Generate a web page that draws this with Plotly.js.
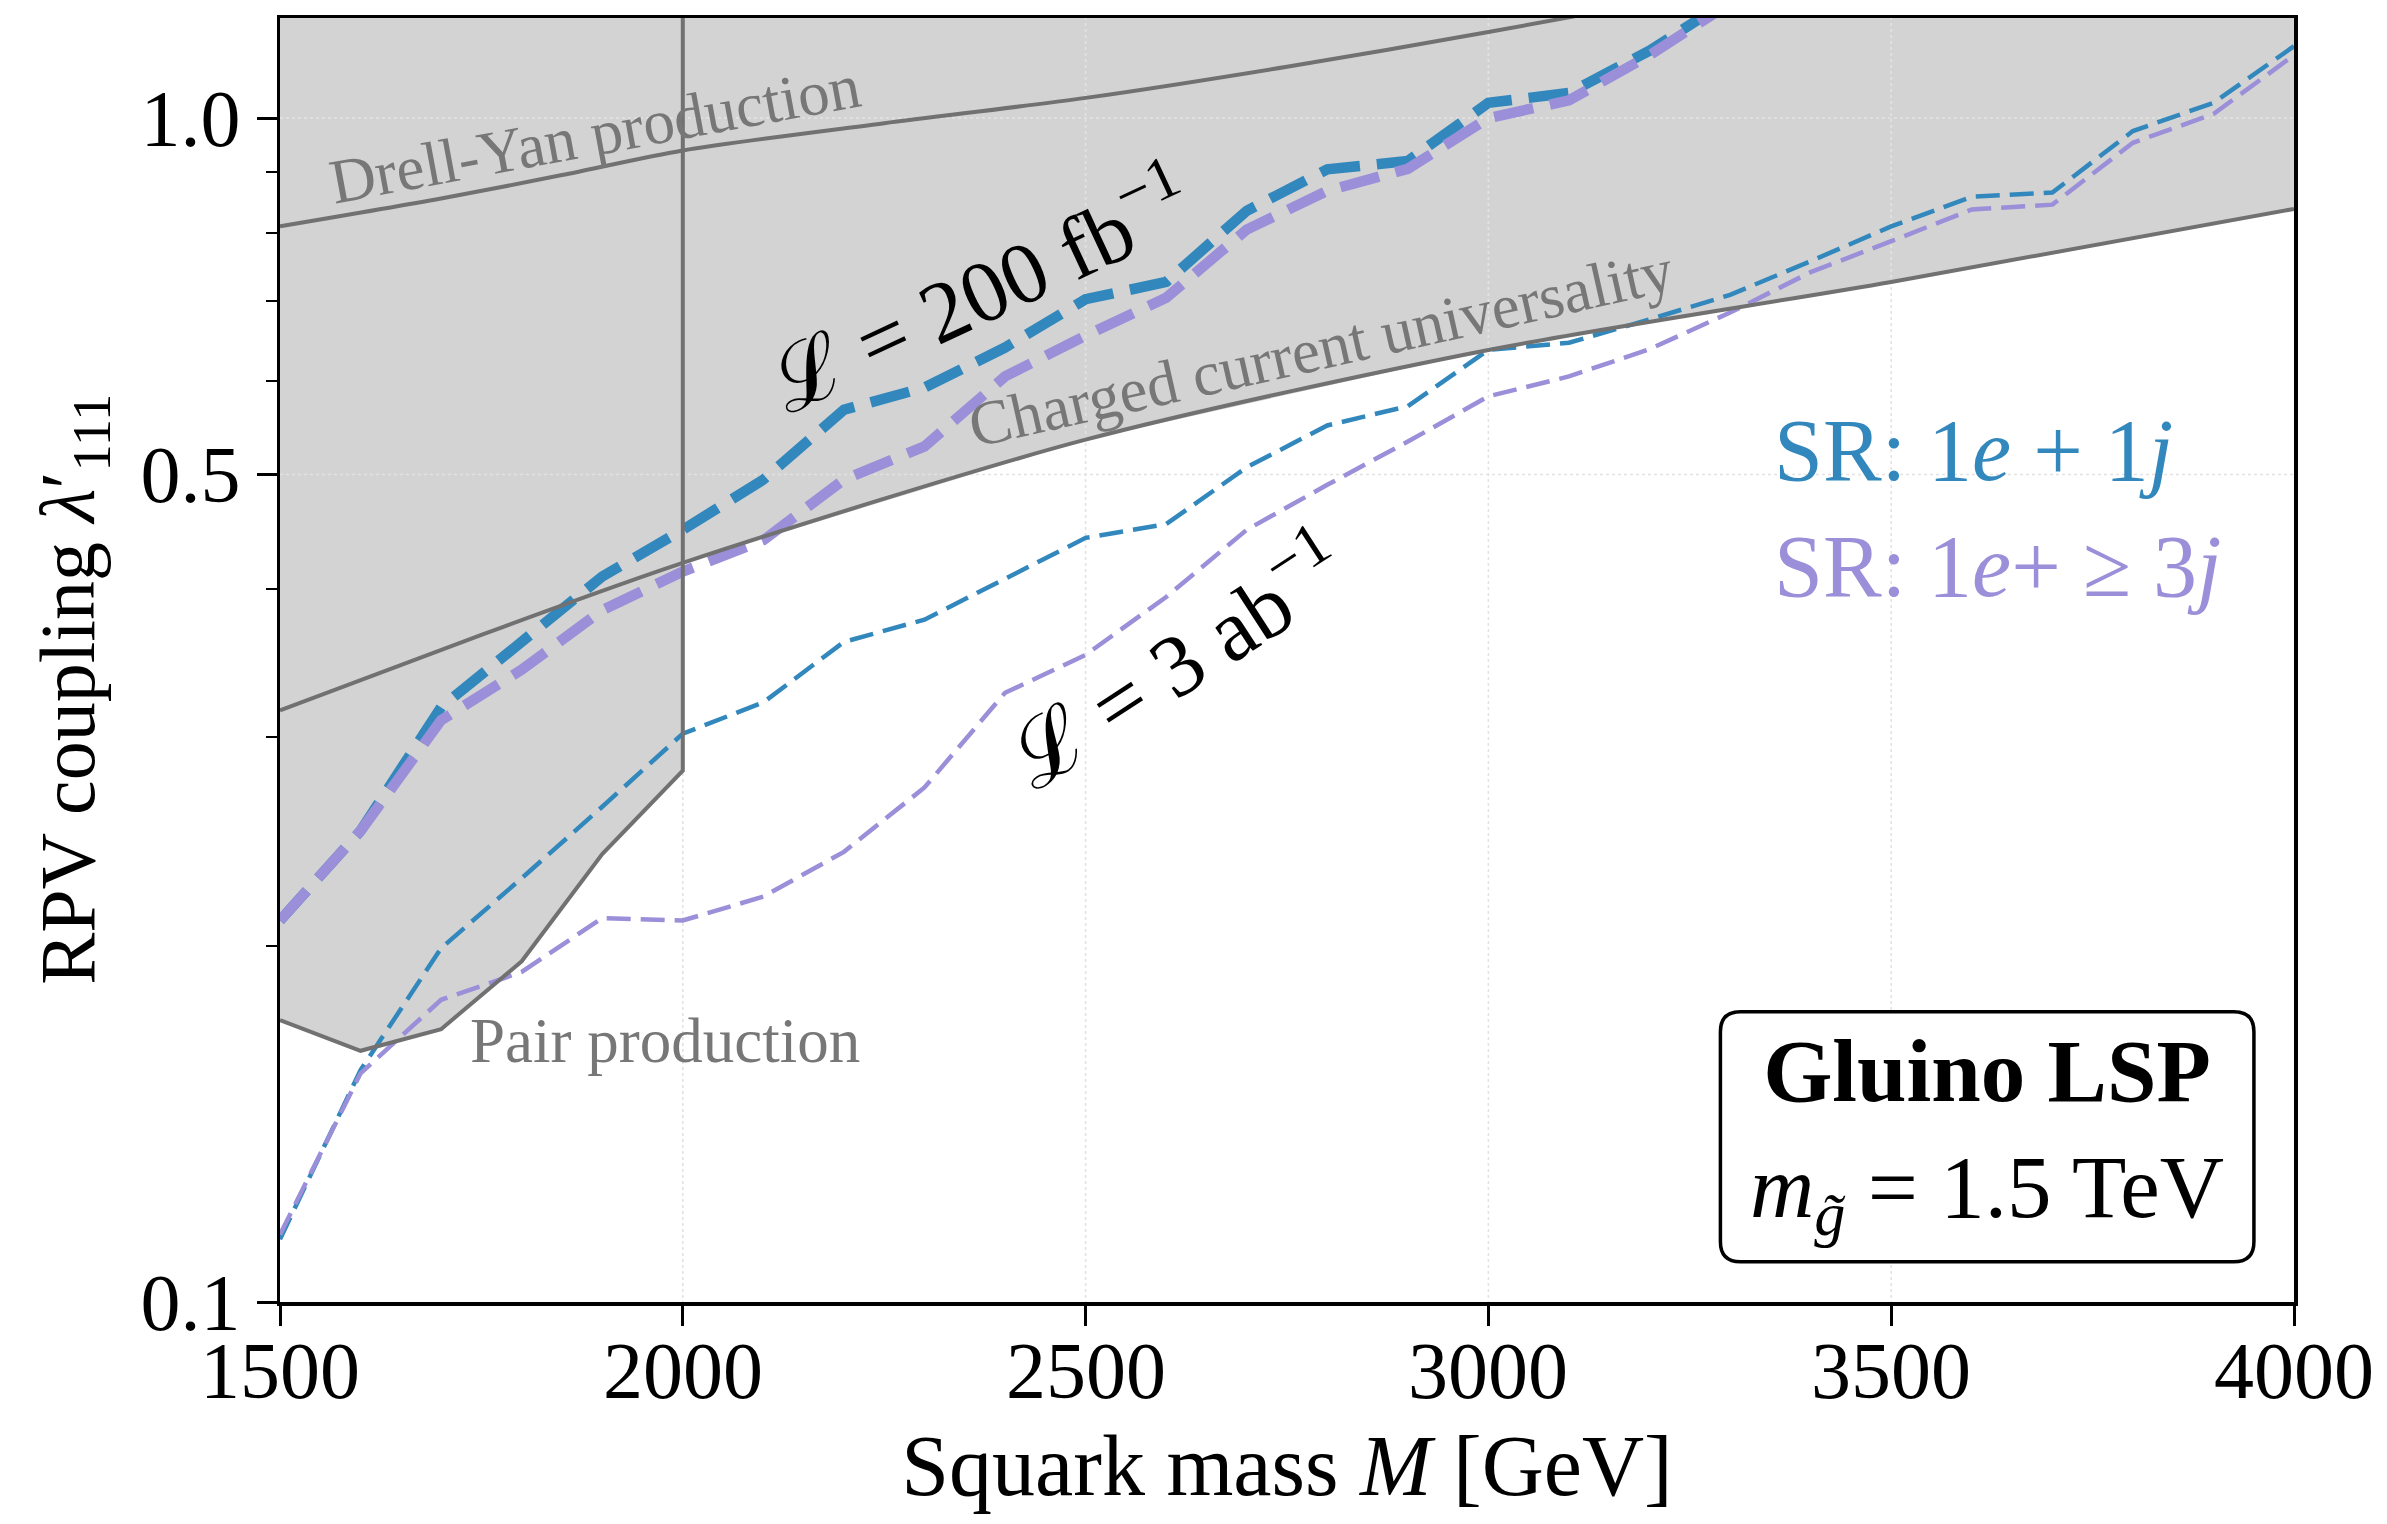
<!DOCTYPE html>
<html><head><meta charset="utf-8">
<script src="https://cdn.plot.ly/plotly-3.0.1.min.js"></script>
<style>html,body{margin:0;padding:0;background:#fff}</style>
</head><body><div id="chart" style="width:2387px;height:1524px"></div>
<script>
// ---- data ----
const mass = [1500,1600,1700,1800,1900,2000,2100,2200,2300,2400,2500,2600,2700,2800,2900,3000,3100,3200,3300,3400,3500,3600,3700,3800,3900,4000];
// L = 200 fb^-1
const lumi200_1e1j = [0.21,0.25,0.318,0.36,0.41,0.449,0.495,0.567,0.592,0.64,0.703,0.727,0.835,0.905,0.92,1.03,1.05,1.14,1.26,null,null,null,null,null,null,null];
const lumi200_1e3j = [0.21,0.25,0.31,0.342,0.384,0.414,0.44,0.495,0.528,0.605,0.655,0.705,0.805,0.868,0.906,1.0,1.035,1.13,1.25,null,null,null,null,null,null,null];
// L = 3 ab^-1
const lumi3000_1e1j = [0.113,0.157,0.199,0.228,0.262,0.302,0.321,0.361,0.377,0.408,0.442,0.454,0.507,0.55,0.571,0.637,0.646,0.676,0.709,0.757,0.81,0.858,0.865,0.975,1.03,1.15];
const lumi3000_1e3j = [0.114,0.156,0.18,0.19,0.211,0.21,0.22,0.24,0.272,0.327,0.352,0.394,0.449,0.49,0.533,0.582,0.605,0.638,0.685,0.741,0.787,0.837,0.845,0.953,1.008,1.13];
// existing bounds
const pairMass = [1500,1600,1700,1800,1900,2000];
const pairBound = [0.173,0.163,0.170,0.194,0.239,0.281];
const ccMass = [1500,1750,2000,2500,3000,3500,4000];
const ccBound = [0.316,0.366,0.421,0.535,0.637,0.727,0.838];
const dyMass = [1500,1700,1850,2000,2250,2500,2750,3000,3250];
const dyBound = [0.81,0.855,0.895,0.939,0.99,1.04,1.105,1.182,1.27];
// ticks
const xTicks = [1500,2000,2500,3000,3500,4000];
const xTickText = ['1500','2000','2500','3000','3500','4000'];
const yTicks = [0.1,0.5,1.0];
const yTickText = ['0.1','0.5','1.0'];
const yMinor = [0.2,0.3,0.4,0.6,0.7,0.8,0.9];
const xGrid = [2000,2500,3000,3500];
const yGrid = [0.5,1.0];

// ---- styles ----
const FONT = 'Liberation Serif, Times New Roman, serif';
const BLUE = '#3288bd';
const PURPLE = '#9a8fd8';
const GRAYLINE = '#717171';
const xRange = [1500,4000];
const yRangeLog = [-1, 0.0845];
const yBeyond = 10; // above plot top (clipped)
const yBelow = 0.01;

// excluded region: above pair-production curve (M<2000) and above charged-current bound
const ccFromPair = ccMass.map((m,i)=>[m,ccBound[i]]).filter(p=>p[0]>=pairMass[pairMass.length-1]);
const fillX = pairMass.concat(ccFromPair.map(p=>p[0]), [xRange[1], xRange[0]]);
const fillY = pairBound.concat(ccFromPair.map(p=>p[1]), [yBeyond, yBeyond]);

const traces = [];
traces.push({x:fillX, y:fillY, type:'scatter', mode:'lines', fill:'toself', fillcolor:'#d3d3d3', line:{width:0}, hoverinfo:'skip', showlegend:false});
// grid lines (above fill, below curves)
xGrid.forEach(g=>traces.push({x:[g,g], y:[yBelow,yBeyond], mode:'lines', line:{color:'#e3e3e3', width:1.6, dash:'dot'}, hoverinfo:'skip', showlegend:false}));
yGrid.forEach(g=>traces.push({x:xRange, y:[g,g], mode:'lines', line:{color:'#e3e3e3', width:1.6, dash:'dot'}, hoverinfo:'skip', showlegend:false}));

const thickDash = '40px,17px';
const thinDash = '24px,10px';
traces.push({x:mass, y:lumi200_1e1j, mode:'lines', line:{color:BLUE, width:10.5, dash:thickDash}, showlegend:false});
traces.push({x:mass, y:lumi200_1e3j, mode:'lines', line:{color:PURPLE, width:10.5, dash:thickDash}, showlegend:false});
traces.push({x:mass, y:lumi3000_1e1j, mode:'lines', line:{color:BLUE, width:4.5, dash:thinDash}, showlegend:false});
traces.push({x:mass, y:lumi3000_1e3j, mode:'lines', line:{color:PURPLE, width:4.5, dash:thinDash}, showlegend:false});

traces.push({x:dyMass, y:dyBound, mode:'lines', line:{color:GRAYLINE, width:4, shape:'spline', smoothing:0.8}, showlegend:false});
traces.push({x:ccMass, y:ccBound, mode:'lines', line:{color:GRAYLINE, width:4, shape:'spline', smoothing:0.8}, showlegend:false});
traces.push({x:pairMass.concat([pairMass[pairMass.length-1]]), y:pairBound.concat([yBeyond]), mode:'lines', line:{color:GRAYLINE, width:4}, showlegend:false});

const L = Math.log10;
const ann = (x, y, text, size, color, angle, extra) => Object.assign({
  x:x, y:L(y), xref:'x', yref:'y', text:text, showarrow:false, textangle:angle,
  font:{family:FONT, size:size, color:color}, xanchor:'center', yanchor:'middle'}, extra||{});

const annotations = [
  ann(1891, 0.97, 'Drell-Yan production', 63, '#777777', -10.5),
  ann(2792, 0.64, 'Charged current universality', 63, '#777777', -12.7),
  ann(1978, 0.166, 'Pair production', 63, '#777777', 0),
  ann(2368, 0.72, 'ℒ = 200 fb<sup>−1</sup>', 87, '#000', -25),
  ann(2612, 0.35, 'ℒ = 3 ab<sup>−1</sup>', 88, '#000', -33),
  ann(3352, 0.524, 'SR: 1<i>e</i> + 1<i>j</i>', 88, BLUE, 0, {xanchor:'left'}),
  ann(3352, 0.418, 'SR: 1<i>e</i>+ ≥ 3<i>j</i>', 88, PURPLE, 0, {xanchor:'left'}),
  ann(3619, 0.1385, '<b>Gluino LSP</b><br><i>m</i><sub><i>g̃</i></sub> = 1.5 TeV', 89, '#000', 0)
];
// x tick labels (placed closer to the axis than Plotly's default)
xTicks.forEach((v,i)=>annotations.push({x:v, xref:'x', y:0, yref:'paper', yanchor:'middle', xanchor:'center', yshift:-69,
  text:xTickText[i], showarrow:false, font:{family:FONT, size:80, color:'#000'}}));

// rounded frame of the info box (paper coordinates)
const bx0 = 0.7152, bx1 = 0.9801, by0 = 0.0314, by1 = 0.2261, rx = 0.0100, ry = 0.0156;
const boxPath = `M ${bx0+rx},${by0} L ${bx1-rx},${by0} Q ${bx1},${by0} ${bx1},${by0+ry} L ${bx1},${by1-ry} Q ${bx1},${by1} ${bx1-rx},${by1} L ${bx0+rx},${by1} Q ${bx0},${by1} ${bx0},${by1-ry} L ${bx0},${by0+ry} Q ${bx0},${by0} ${bx0+rx},${by0} Z`;

const layout = {
  width:2387, height:1524,
  margin:{l:280, r:93, t:18, b:222},
  paper_bgcolor:'#fff', plot_bgcolor:'#fff',
  showlegend:false,
  font:{family:FONT, color:'#000'},
  xaxis:{range:xRange, tickvals:xTicks, showticklabels:false, ticks:'outside', ticklen:20, tickwidth:3, tickcolor:'#000',
    showline:true, linewidth:3.5, linecolor:'#000', mirror:true, showgrid:false, zeroline:false,
    title:{text:'Squark mass <i>M</i> [GeV]', font:{family:FONT, size:86, color:'#000'}, standoff:111}},
  yaxis:{type:'log', range:yRangeLog, tickvals:yTicks, ticktext:yTickText, ticks:'outside', ticklen:20, tickwidth:3, tickcolor:'#000',
    minor:{tickvals:yMinor, ticks:'outside', ticklen:11, tickwidth:2, tickcolor:'#000', showgrid:false},
    showline:true, linewidth:3.5, linecolor:'#000', mirror:true, showgrid:false, zeroline:false,
    tickfont:{family:FONT, size:80, color:'#000'},
    title:{text:'RPV coupling <i>λ</i>′<sub>111</sub>&nbsp;&nbsp;&nbsp;', font:{family:FONT, size:78, color:'#000'}, standoff:21}},
  shapes:[{type:'path', xref:'paper', yref:'paper', path:boxPath, fillcolor:'#fff', line:{color:'#000', width:3.5}, layer:'above'}],
  annotations:annotations
};

Plotly.newPlot('chart', traces, layout, {staticPlot:true});
</script></body></html>
